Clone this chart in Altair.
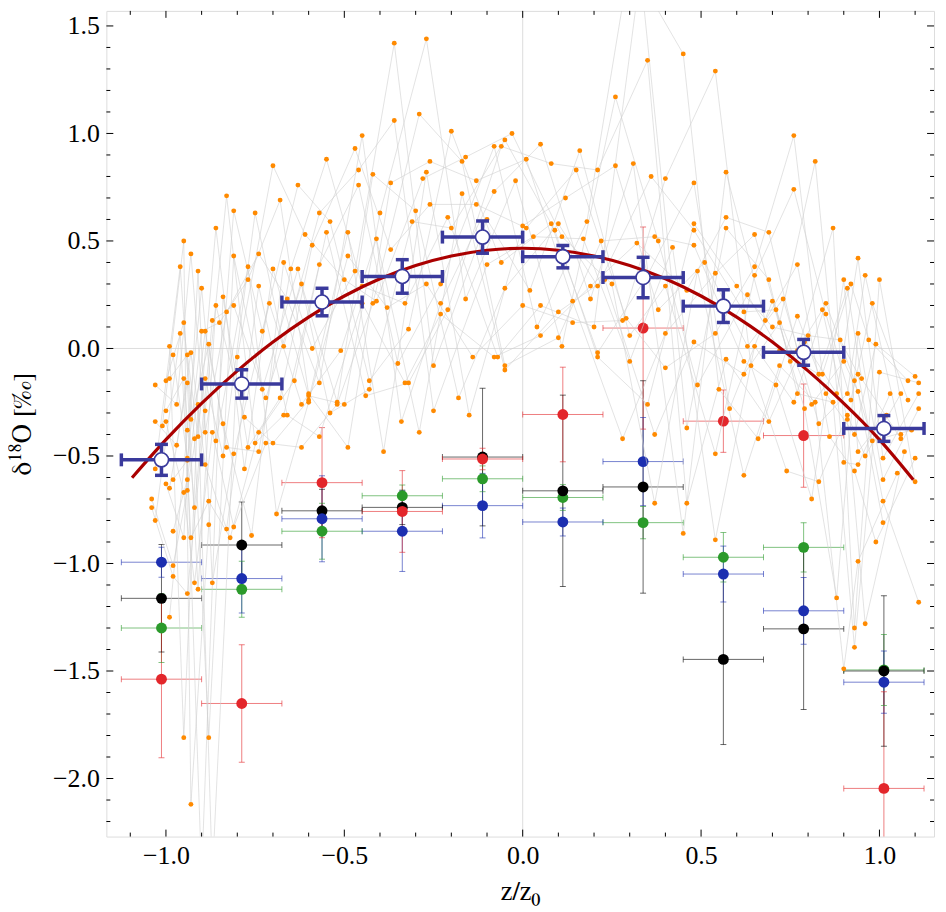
import altair as alt
import pandas as pd

# ---------------- data ----------------
bin_x = [-1.0125, -0.7875, -0.5625, -0.3375, -0.1125, 0.1125, 0.3375, 0.5625, 0.7875, 1.0125]
bin_half = [0.1125] * 10

green_y = [-1.30, -1.12, -0.85, -0.685, -0.606, -0.693, -0.81, -0.971, -0.925, -1.495]
green_e = [0.16, 0.13, 0.13, 0.05, 0.06, 0.06, 0.075, 0.115, 0.115, 0.165]
black_y = [-1.162, -0.914, -0.755, -0.739, -0.505, -0.662, -0.644, -1.446, -1.304, -1.50]
black_e = [0.25, 0.20, 0.10, 0.08, 0.32, 0.445, 0.494, 0.396, 0.375, 0.35]
blue_y = [-0.994, -1.07, -0.792, -0.85, -0.731, -0.807, -0.526, -1.049, -1.22, -1.552]
blue_e = [0.07, 0.16, 0.20, 0.187, 0.15, 0.065, 0.205, 0.13, 0.155, 0.145]
red_y = [-1.538, -1.651, -0.624, -0.758, -0.514, -0.307, 0.095, -0.338, -0.405, -2.046]
red_e = [0.365, 0.273, 0.256, 0.19, 0.05, 0.22, 0.47, 0.145, 0.24, 0.45]

mean_y = [-0.518, -0.165, 0.216, 0.335, 0.518, 0.427, 0.330, 0.197, -0.018, -0.372]
mean_e = [0.072, 0.066, 0.064, 0.078, 0.075, 0.052, 0.094, 0.076, 0.060, 0.060]

curve_x = [-1.095, -1.0, -0.9, -0.8, -0.7, -0.6, -0.5, -0.4, -0.3, -0.2, -0.1, 0.0,
           0.1, 0.2, 0.3, 0.4, 0.5, 0.6, 0.7, 0.8, 0.9, 1.0, 1.095]
curve_y = [-0.601, -0.424, -0.255, -0.104, 0.030, 0.146, 0.244, 0.324, 0.386, 0.430, 0.457, 0.466,
           0.457, 0.430, 0.386, 0.324, 0.244, 0.146, 0.030, -0.104, -0.255, -0.424, -0.611]

ox = [-0.36, -0.27, -0.29, -0.36, -0.20, -0.45, -0.47, -0.55, -0.63, -0.70, -0.46, -0.42, -0.37, -0.46, -0.26,
      -0.16, -0.17, -0.27, -0.28, -0.13, -0.08, -0.08, -0.17, -0.13, -0.26, -0.30, -0.31, -0.21, -0.20, -0.40,
      -0.57, -0.54, -0.55, -0.61, -0.59, -0.49, -0.41, -0.37, -0.49, -0.57, -0.50, -0.47, -0.62, -0.68, -0.75,
      -0.81, -0.83, -0.86, -0.95, -0.96, -0.93, -0.91, -0.90, -0.81, -0.77, -0.74, -0.77, -0.74, -0.70, -0.67,
      -0.65, -0.63, -0.71, -0.66, -0.86, -0.81, -0.83, -0.84, -0.87, -0.85, -0.95, -0.96, -0.90, -0.89, -0.88,
      -0.73, -0.67, -0.59, -0.51, -0.99, -0.98, -0.94, -0.93, -1.03, -1.00, -0.99, -0.95, -0.94, -0.89, -0.80,
      -0.73, -0.72, -0.68, -0.64, -0.60, -0.60, -0.57, -0.52, -0.43, -0.43, -0.44, -0.35, -0.33, -0.32, -0.32,
      -0.25, -0.18, -0.14, -0.08, -0.16, -0.27, -0.23, -0.23, -0.23, -0.21, -0.33, -0.38, -0.41, -0.42, -0.45,
      -0.45,
      -1.00, -1.01, -1.03, -1.00, -0.97, -0.91, -0.89, -0.93, -0.94, -0.91, -0.92, -0.89, -0.87, -0.86, -0.84,
      -0.97, -0.94, -0.94, -0.89, -1.03, -0.98, -1.00, -0.99, -0.94, -0.94, -0.95, -1.04, -1.04, -1.03, -0.92,
      -0.88, -0.98, -0.95, -0.93, -0.88, -0.83, -0.81, -0.82, -0.76, -0.69, -0.78, -0.81, -0.83, -0.84, -0.77,
      -0.75, -0.74, -0.72, -0.70, -0.74, -0.78, -0.67, -0.66, -0.62, -0.57, -0.62, -0.60, -0.60, -0.54, -0.52,
      -0.50, -0.49, -0.39, -0.98, -0.98, -0.92, -0.91, -0.94, -0.99, -0.87, -0.95, -0.88, -0.93,
      0.26, 0.35, 0.45, 0.54, 0.76, 0.76, 0.82, 0.87, -0.03, -0.05, -0.06, 0.05, 0.16, 0.01, 0.08,
      0.15, 0.21, 0.26, 0.31, 0.36, 0.40, 0.48, 0.57, -0.02, 0.12, -0.10, 0.00, 0.01, 0.08, 0.10,
      0.09, 0.11, 0.18, 0.17, 0.22, 0.03, 0.32, 0.37, 0.38, 0.42, 0.48, 0.48, 0.48, 0.57, 0.57,
      0.65, 0.69, 0.51, 0.49, 0.54, 0.60, 0.65, 0.65, 0.69, 0.63, 0.70, 0.73, 0.71, 0.62, 0.68,
      0.72, 0.70, 0.77, 0.77, 0.84, 0.85, 0.85, 0.89, 0.90, 0.90, 0.91, 0.92, 0.94, 0.96, 1.00,
      0.98, 0.94, 0.97, 0.99, 1.00, 0.94, 0.95, 0.93, 1.08, 1.10, 1.11, 0.84, 0.83, 0.80, 0.79,
      0.77, 0.75, 0.72, 0.72, 0.65, 0.63, 0.64, 0.62, 0.62, 0.57, 0.54, 0.48, 0.40, 0.38, 0.28,
      0.29, 0.30, 0.30, 0.40, 0.20, 0.21, 0.21, 0.11, 0.10, 0.04, 0.05, 0.10, 0.14, 0.14, 0.19,
      0.19, 0.21, 0.25, 0.23, 0.40, 0.46, 0.35, 0.02, -0.05, 0.00, 0.05, -0.10, -0.06, -0.07, -0.05,
      -0.05,
      0.49, 0.55, 0.58, 0.46, 0.54, 0.66, 0.62, 0.69, 0.71, 0.74, 0.46, 0.45, 0.54, 0.76, 0.77,
      0.79, 0.81, 0.82, 0.83, 0.83, 0.81, 0.86, 0.87, 0.85, 0.88, 0.91, 0.92, 0.94, 0.91, 0.91,
      0.93, 0.94, 0.96, 0.94, 0.90, 0.93, 0.98, 1.01, 1.01, 1.05, 1.07, 1.06, 1.06, 1.09, 1.08,
      1.11, 1.11, 1.10, 1.10, 1.03, 1.06, 1.02, 1.01, 1.01, 0.99, 0.94, 0.88, 0.93, 0.93, 0.96,
      0.90, 1.11,
      -0.34, -0.29, -0.25, -0.15, 0.28, 0.35, 0.37, 0.37,
      0.33, 0.30, -0.90, -0.87]
oy = [1.42, 1.44, 1.09, 1.06, 1.01, 0.99, 0.93, 0.88, 0.76, 0.85, 0.83, 0.81, 0.77, 0.76, 0.87,
      0.89, 0.87, 0.82, 0.79, 0.78, 0.94, 0.73, 0.72, 0.67, 0.67, 0.64, 0.59, 0.61, 0.56, 0.63,
      0.63, 0.59, 0.54, 0.53, 0.48, 0.54, 0.51, 0.46, 0.43, 0.39, 0.32, 0.36, 0.30, 0.69, 0.63,
      0.64, 0.71, 0.56, 0.50, 0.38, 0.44, 0.36, 0.28, 0.43, 0.38, 0.44, 0.32, 0.29, 0.37, 0.40,
      0.37, 0.37, 0.21, 0.23, 0.20, 0.20, 0.17, 0.24, 0.13, 0.12, 0.12, 0.07, 0.08, 0.08, 0.02,
      0.08, 0.01, 0.00, -0.01, 0.01, -0.03, -0.03, -0.02, -0.17, -0.15, -0.14, -0.14, -0.16, -0.14, -0.04,
      -0.19, -0.23, -0.23, -0.15, -0.22, -0.24, -0.16, -0.25, -0.15, -0.19, -0.22, -0.07, -0.16, -0.16, 0.09,
      -0.08, -0.23, -0.04, -0.04, 0.23, 0.30, 0.30, 0.21, 0.16, 0.18, 0.21, 0.19, 0.22, 0.21, 0.21,
      0.29,
      -0.29, -0.36, -0.34, -0.34, -0.26, -0.26, -0.29, -0.33, -0.38, -0.41, -0.42, -0.39, -0.39, -0.43, -0.35,
      -0.45, -0.51, -0.52, -0.54, -0.56, -0.61, -0.63, -0.65, -0.61, -0.66, -0.67, -0.70, -0.74, -0.80, -0.74,
      -0.71, -0.85, -0.88, -0.88, -0.82, -0.84, -0.83, -0.88, -0.87, -0.77, -0.56, -0.49, -0.46, -0.50, -0.46,
      -0.44, -0.48, -0.44, -0.44, -0.39, -0.32, -0.31, -0.31, -0.46, -0.41, -0.26, -0.25, -0.21, -0.30, -0.26,
      -0.26, -0.46, -0.48, -1.01, -1.06, -1.09, -1.12, -1.14, -1.25, -1.09, -1.81, -1.81, -2.12,
      1.17, 1.34, 1.37, 1.29, 0.99, 0.74, 0.87, 0.56, 1.00, 0.97, 0.94, 0.95, 0.92, 0.88, 0.86,
      0.83, 0.83, 0.85, 0.86, 0.80, 0.79, 0.77, 0.82, 0.78, 0.70, 0.60, 0.57, 0.56, 0.58, 0.58,
      0.55, 0.52, 0.59, 0.51, 0.50, 0.52, 0.49, 0.52, 0.50, 0.47, 0.58, 0.55, 0.48, 0.61, 0.56,
      0.53, 0.54, 0.40, 0.36, 0.35, 0.29, 0.38, 0.34, 0.32, 0.25, 0.22, 0.23, 0.18, 0.17, 0.13,
      0.12, 0.10, 0.15, 0.39, 0.18, 0.16, 0.21, 0.04, -0.06, 0.32, 0.28, 0.30, 0.42, 0.34, 0.32,
      0.21, 0.07, 0.04, 0.02, -0.11, -0.12, -0.14, -0.15, -0.15, -0.13, -0.16, -0.12, -0.12, 0.06, 0.03,
      -0.01, -0.06, -0.08, -0.01, 0.01, 0.01, -0.08, -0.06, -0.12, -0.05, 0.07, 0.03, 0.07, 0.18, 0.13,
      0.14, 0.06, -0.06, -0.09, 0.10, -0.02, -0.04, 0.01, 0.05, 0.10, 0.06, 0.17, 0.12, 0.22, 0.23,
      0.29, 0.29, 0.30, 0.32, 0.29, 0.27, 0.34, 0.27, 0.28, 0.20, 0.20, 0.39, 0.40, -0.04, -0.08,
      -0.10,
      -0.17, -0.19, -0.28, -0.37, -0.49, -0.42, -0.59, -0.34, -0.17, -0.57, -0.72, -0.86, -0.89, -0.25, -0.21,
      -0.28, -0.26, -0.25, -0.35, -0.62, -0.70, -0.41, -0.25, -0.21, -0.21, -0.21, -0.24, -0.20, -0.31, -0.33,
      -0.40, -0.48, -0.50, -0.54, -0.53, -0.57, -0.43, -0.51, -0.61, -0.58, -0.48, -0.42, -0.40, -0.38, -0.24,
      -0.21, -0.28, -0.51, -0.62, -0.21, -0.21, -0.31, -0.71, -0.81, -0.90, -0.99, -1.16, -1.30, -1.39, -1.28,
      -1.49, -1.18,
      -0.34, -0.39, -0.29, -0.31, -0.42, -0.26, -0.40, -0.72,
      1.75, 1.80, -2.45, -2.45]

x_major = [-1.0, -0.5, 0.0, 0.5, 1.0]
x_minor = [-1.1, -0.9, -0.8, -0.7, -0.6, -0.4, -0.3, -0.2, -0.1, 0.1, 0.2, 0.3, 0.4, 0.6, 0.7, 0.8, 0.9, 1.1]
y_major = [-2.0, -1.5, -1.0, -0.5, 0.0, 0.5, 1.0, 1.5]
y_minor = [-2.2, -2.1, -1.9, -1.8, -1.7, -1.6, -1.4, -1.3, -1.2, -1.1, -0.9, -0.8, -0.7, -0.6,
           -0.4, -0.3, -0.2, -0.1, 0.1, 0.2, 0.3, 0.4, 0.6, 0.7, 0.8, 0.9, 1.1, 1.2, 1.3, 1.4]

series_names = ["green", "black", "blue", "red"]
series_colors = ["#2b9a2b", "#000000", "#1c2fb0", "#e3262b"]
series_vals = {"green": (green_y, green_e), "black": (black_y, black_e),
               "blue": (blue_y, blue_e), "red": (red_y, red_e)}

# ---------------- tables ----------------
rows = []
for s in series_names:
    ys, es = series_vals[s]
    for i in range(len(bin_x)):
        rows.append(dict(s=s, x=bin_x[i], y=ys[i], ylo=ys[i] - es[i], yhi=ys[i] + es[i],
                         xlo=bin_x[i] - bin_half[i], xhi=bin_x[i] + bin_half[i]))
bins_df = pd.DataFrame(rows)

mean_df = pd.DataFrame(dict(x=bin_x, y=mean_y,
                            ylo=[m - e for m, e in zip(mean_y, mean_e)],
                            yhi=[m + e for m, e in zip(mean_y, mean_e)],
                            xlo=[b - h for b, h in zip(bin_x, bin_half)],
                            xhi=[b + h for b, h in zip(bin_x, bin_half)]))
curve_df = pd.DataFrame(dict(x=curve_x, y=curve_y))
orange_df = pd.DataFrame(dict(x=ox, y=oy))

W, H = 833, 831
FONT = "Liberation Serif"
TFONT = "FreeSerif"

XS = alt.Scale(domain=[-1.167, 1.153], nice=False, zero=False)
YS = alt.Scale(domain=[-2.27, 1.57], nice=False, zero=False)
XAX = alt.Axis(title="z/z₀", values=x_major, format=".1f", grid=False, ticks=False, tickSize=0,
               domain=False, labelFont=FONT, labelFontSize=26, labelColor="black", labelPadding=6,
               labelFlush=False, titleFont=TFONT, titleFontSize=27, titleFontWeight="normal",
               titleColor="black", titlePadding=10)
YAX = alt.Axis(title="δ¹⁸O [‰]", values=y_major, format=".1f", grid=False, ticks=False, tickSize=0,
               domain=False, labelFont=FONT, labelFontSize=26, labelColor="black", labelPadding=7,
               labelFlush=False, titleFont=TFONT, titleFontSize=27, titleFontWeight="normal",
               titleColor="black", titlePadding=16)


def X(f):
    return alt.X(f, type="quantitative", scale=XS, axis=XAX)


def Y(f):
    return alt.Y(f, type="quantitative", scale=YS, axis=YAX)


cscale = alt.Scale(domain=series_names, range=series_colors)
col = alt.Color("s:N", scale=cscale, legend=None)

zero_df = pd.DataFrame(dict(v=[0.0]))
grid_x = alt.Chart(zero_df).mark_rule(color="#dddddd", strokeWidth=1).encode(x=X("v"))
grid_y = alt.Chart(zero_df).mark_rule(color="#dddddd", strokeWidth=1).encode(y=Y("v"))

base_bins = alt.Chart(bins_df)
bin_v = base_bins.mark_rule(strokeWidth=1, opacity=0.6, clip=True).encode(x=X("x"), y=Y("ylo"), y2="yhi", color=col)
bin_h = base_bins.mark_rule(strokeWidth=1, opacity=0.6, clip=True).encode(x=X("xlo"), x2="xhi", y=Y("y"), color=col)
cap_lo = base_bins.mark_tick(orient="horizontal", size=6, thickness=1, opacity=0.6, clip=True).encode(x=X("x"), y=Y("ylo"), color=col)
cap_hi = base_bins.mark_tick(orient="horizontal", size=6, thickness=1, opacity=0.6, clip=True).encode(x=X("x"), y=Y("yhi"), color=col)
cap_l = base_bins.mark_tick(orient="vertical", size=6, thickness=1, opacity=0.6, clip=True).encode(x=X("xlo"), y=Y("y"), color=col)
cap_r = base_bins.mark_tick(orient="vertical", size=6, thickness=1, opacity=0.6, clip=True).encode(x=X("xhi"), y=Y("y"), color=col)
bin_pts = base_bins.mark_circle(size=120, opacity=1, clip=True).encode(x=X("x"), y=Y("y"), color=col)

# thin grey lines joining the scattered points, taken left to right in turn
tracks = alt.Chart(orange_df).transform_window(
    rank="row_number()", sort=[alt.SortField("x")]
).transform_calculate(track="datum.rank % 18").mark_line(
    color="#d0d0d0", strokeWidth=0.6, clip=True
).encode(x=X("x"), y=Y("y"), detail="track:N", order="x:Q")
dots = alt.Chart(orange_df).mark_circle(size=24, color="#ff8a00", opacity=1, clip=True).encode(x=X("x"), y=Y("y"))

curve = alt.Chart(curve_df).mark_line(color="#aa0000", strokeWidth=3.2, interpolate="natural").encode(
    x=X("x"), y=Y("y"), order="x:Q")

MC = "#3a3a9c"
mb = alt.Chart(mean_df)
m_v = mb.mark_rule(color=MC, strokeWidth=3.5).encode(x=X("x"), y=Y("ylo"), y2="yhi")
m_h = mb.mark_rule(color=MC, strokeWidth=3.5).encode(x=X("xlo"), x2="xhi", y=Y("y"))
m_c1 = mb.mark_tick(orient="horizontal", size=13, thickness=3.5, color=MC, opacity=1).encode(x=X("x"), y=Y("ylo"))
m_c2 = mb.mark_tick(orient="horizontal", size=13, thickness=3.5, color=MC, opacity=1).encode(x=X("x"), y=Y("yhi"))
m_c3 = mb.mark_tick(orient="vertical", size=13, thickness=3.5, color=MC, opacity=1).encode(x=X("xlo"), y=Y("y"))
m_c4 = mb.mark_tick(orient="vertical", size=13, thickness=3.5, color=MC, opacity=1).encode(x=X("xhi"), y=Y("y"))
m_pt = mb.mark_circle(size=200, fill="white", stroke=MC, strokeWidth=1.6, opacity=1, fillOpacity=1).encode(x=X("x"), y=Y("y"))

xmaj = pd.DataFrame(dict(t=x_major))
xmin = pd.DataFrame(dict(t=x_minor))
ymaj = pd.DataFrame(dict(t=y_major))
ymin = pd.DataFrame(dict(t=y_minor))
TK = dict(color="black", strokeWidth=1)
tick_layers = [
    alt.Chart(xmaj).mark_rule(**TK).encode(x=X("t"), y=alt.value(H), y2=alt.value(H - 7)),
    alt.Chart(xmaj).mark_rule(**TK).encode(x=X("t"), y=alt.value(0), y2=alt.value(7)),
    alt.Chart(xmin).mark_rule(**TK).encode(x=X("t"), y=alt.value(H), y2=alt.value(H - 4)),
    alt.Chart(xmin).mark_rule(**TK).encode(x=X("t"), y=alt.value(0), y2=alt.value(4)),
    alt.Chart(ymaj).mark_rule(**TK).encode(y=Y("t"), x=alt.value(0), x2=alt.value(7)),
    alt.Chart(ymaj).mark_rule(**TK).encode(y=Y("t"), x=alt.value(W), x2=alt.value(W - 7)),
    alt.Chart(ymin).mark_rule(**TK).encode(y=Y("t"), x=alt.value(0), x2=alt.value(4)),
    alt.Chart(ymin).mark_rule(**TK).encode(y=Y("t"), x=alt.value(W), x2=alt.value(W - 4)),
]

chart = alt.layer(
    grid_x, grid_y,
    bin_v, bin_h, cap_lo, cap_hi, cap_l, cap_r, bin_pts,
    tracks, dots, curve,
    m_v, m_h, m_c1, m_c2, m_c3, m_c4, m_pt,
    *tick_layers,
).properties(
    width=W, height=H,
    autosize=alt.AutoSizeParams(type="none"),
    padding={"left": 99, "top": 0, "right": 4, "bottom": 73},
).configure_view(stroke="black", strokeWidth=1.2).configure(background="white")

chart.save("out.html", embed_options={"renderer": "svg", "actions": False})
